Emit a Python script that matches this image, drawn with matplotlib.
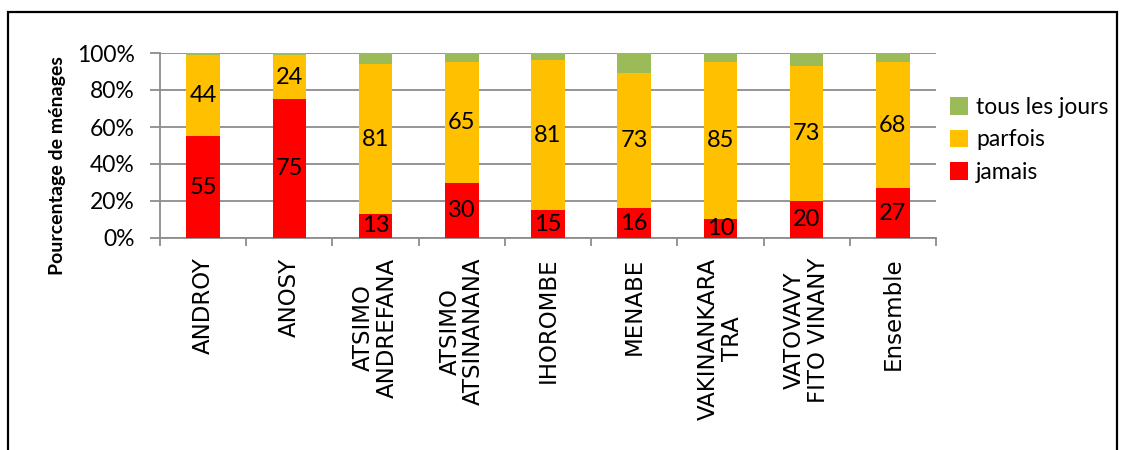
'''Stacked 100% bar chart: frequency per region (jamais / parfois / tous les jours).'''

import numpy as np
import matplotlib.pyplot as plt
from matplotlib.font_manager import FontProperties
from matplotlib.patches import Patch, Rectangle

REGIONS = ['ANDROY', 'ANOSY', 'ATSIMO\nANDREFANA', 'ATSIMO\nATSINANANA', 'IHOROMBE',
           'MENABE', 'VAKINANKARA\nTRA', 'VATOVAVY\nFITO VINANY', 'Ensemble']
JAMAIS = [55, 75, 13, 30, 15, 16, 10, 20, 27]
PARFOIS = [44, 24, 81, 65, 81, 73, 85, 73, 68]
TOUS_LES_JOURS = [1, 1, 6, 5, 4, 11, 5, 7, 5]
Y_TICKS = [0, 20, 40, 60, 80, 100]
SERIES_NAMES = ['tous les jours', 'parfois', 'jamais']

RED = '#ff0000'
ORANGE = '#ffc000'
GREEN = '#9bbb59'
GRID = '#8c8c8c'

W, H = 1123, 450

plt.rcParams['font.family'] = ['Lato', 'DejaVu Sans']

fig = plt.figure(figsize=(W / 100, H / 100), dpi=100)
ax = fig.add_axes([160 / W, 1 - 238 / H, (936 - 160) / W, (238 - 53) / H])

x = np.arange(len(REGIONS))
jamais = np.array(JAMAIS)
parfois = np.array(PARFOIS)
tous = np.array(TOUS_LES_JOURS)

b1 = ax.bar(x, jamais, width=0.39, color=RED, zorder=3)
b2 = ax.bar(x, parfois, width=0.39, bottom=jamais, color=ORANGE, zorder=3)
b3 = ax.bar(x, tous, width=0.39, bottom=jamais + parfois, color=GREEN, zorder=3)

ax.bar_label(b1, labels=[str(v) for v in JAMAIS], label_type='center', fontsize=17, color='black')
ax.bar_label(b2, labels=[str(v) for v in PARFOIS], label_type='center', fontsize=17, color='black')

ax.set_xlim(-0.5, len(REGIONS) - 0.5)
ax.set_ylim(0, 100)

ax.yaxis.grid(True, color=GRID, lw=1.3)
ax.set_axisbelow(True)
for side in ['top', 'right']:
    ax.spines[side].set_visible(False)
for side in ['left', 'bottom']:
    ax.spines[side].set_color(GRID)
    ax.spines[side].set_linewidth(1.3)

ax.set_yticks(Y_TICKS, [f'{v}%' for v in Y_TICKS])
ax.tick_params(axis='y', length=7.2, width=1.3, color=GRID, pad=11, labelsize=16.5)

ax.set_xticks(np.arange(-0.5, len(REGIONS), 1), minor=True)
ax.tick_params(axis='x', which='minor', length=6, width=1.3, color=GRID)
ax.tick_params(axis='x', which='major', length=0, pad=14)
ax.set_xticks(x)
cat_font = FontProperties(family='DejaVu Sans', size=16.5)
ax.set_xticklabels(REGIONS, rotation=90, linespacing=1.05, multialignment='center',
                   va='top', ha='center', fontproperties=cat_font)

fig.text(57 / W, 1 - 166 / H, 'Pourcentage de ménages', rotation=90, ha='center',
         va='center', fontsize=14, fontweight='bold')

handles = [Patch(facecolor=c) for c in [GREEN, ORANGE, RED]]
fig.legend(handles, SERIES_NAMES, loc='center left', bbox_to_anchor=(950 / W, 1 - 140 / H),
           frameon=False, fontsize=16.5, handlelength=0.8, handleheight=0.8,
           handletextpad=0.35, labelspacing=0.5, borderpad=0, borderaxespad=0)

fig.patches.append(Rectangle((8 / W, -0.1), (1117 - 8) / W, 1.1 - 12 / H, transform=fig.transFigure,
                             fill=False, edgecolor='black', lw=1.6))

fig.savefig('out.png', dpi=100)
